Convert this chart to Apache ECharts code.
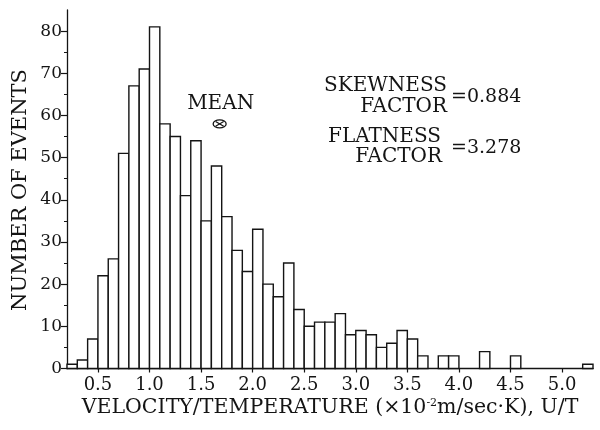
<!DOCTYPE html>
<html>
<head>
<meta charset="utf-8">
<script src="https://cdn.jsdelivr.net/npm/echarts@6/dist/echarts.min.js"></script>
<style>
  html, body { margin: 0; padding: 0; background: #fff; }
  #chart { width: 600px; height: 430px; }
</style>
</head>
<body>
<div id="chart"></div>
<script>
// Histogram of U/T: lower edge of each 0.1-wide bin and the number of events in it
const binWidth = 0.1;
const binStart = [
  0.2, 0.3, 0.4, 0.5, 0.6, 0.7, 0.8, 0.9, 1.0, 1.1,
  1.2, 1.3, 1.4, 1.5, 1.6, 1.7, 1.8, 1.9, 2.0, 2.1,
  2.2, 2.3, 2.4, 2.5, 2.6, 2.7, 2.8, 2.9, 3.0, 3.1,
  3.2, 3.3, 3.4, 3.5, 3.6, 3.7, 3.8, 3.9, 4.0, 4.1,
  4.2, 4.3, 4.4, 4.5, 4.6, 4.7, 4.8, 4.9, 5.0, 5.1, 5.2
];
const counts = [
  1, 2, 7, 22, 26, 51, 67, 71, 81, 58,
  55, 41, 54, 35, 48, 36, 28, 23, 33, 20,
  17, 25, 14, 10, 11, 11, 13, 8, 9, 8,
  5, 6, 9, 7, 3, 0, 3, 3, 0, 0,
  4, 0, 0, 3, 0, 0, 0, 0, 0, 0, 1
];

// Axis ticks and labels
const xTicks = [0.5, 1.0, 1.5, 2.0, 2.5, 3.0, 3.5, 4.0, 4.5, 5.0];
const yTicks = [0, 10, 20, 30, 40, 50, 60, 70, 80];
const yMinorTicks = [5, 15, 25, 35, 45, 55, 65, 75];

// Mean marker position (U/T, events) and the statistics printed beside it
const meanPoint = [1.68, 58];
const skewnessFactor = '0.884';
const flatnessFactor = '3.278';

const FONT = '"DejaVu Serif", "Liberation Serif", serif';
const INK = '#141414';

const chart = echarts.init(document.getElementById('chart'), null, { renderer: 'canvas' });

const histData = binStart.map((b, i) => [b, counts[i]]);

chart.setOption({
  animation: false,
  backgroundColor: '#ffffff',
  grid: { left: 67, right: 7, top: 10, bottom: 61.5 },
  xAxis: {
    type: 'value',
    min: 0.2,
    max: 5.3,
    axisLine: { show: true, onZero: false, lineStyle: { color: INK, width: 1.3 } },
    axisTick: { show: true, customValues: xTicks, length: 4, lineStyle: { color: INK, width: 1.2 } },
    axisLabel: {
      customValues: xTicks,
      formatter: v => v.toFixed(1),
      fontFamily: FONT, fontSize: 18, color: INK, margin: 8
    },
    splitLine: { show: false }
  },
  yAxis: [
    {
      type: 'value',
      min: 0,
      max: 85,
      position: 'left',
      axisLine: { show: true, lineStyle: { color: INK, width: 1.3 } },
      axisTick: { show: true, customValues: yTicks, length: 6, lineStyle: { color: INK, width: 1.2 } },
      axisLabel: {
        customValues: yTicks,
        fontFamily: FONT, fontSize: 17, color: INK, margin: 5
      },
      splitLine: { show: false }
    },
    {
      // minor ticks at every 5 events
      type: 'value',
      min: 0,
      max: 85,
      position: 'left',
      offset: 0,
      axisLine: { show: false },
      axisTick: { show: true, customValues: yMinorTicks, length: 3, lineStyle: { color: INK, width: 1 } },
      axisLabel: { show: false },
      splitLine: { show: false }
    }
  ],
  series: [
    {
      type: 'custom',
      name: 'events',
      data: histData,
      encode: { x: 0, y: 1 },
      renderItem: (params, api) => {
        const x0 = api.value(0);
        const n = api.value(1);
        if (!n) return null;
        const base = api.coord([x0, 0]);
        const top = api.coord([x0 + binWidth, n]);
        return {
          type: 'rect',
          shape: { x: base[0], y: top[1], width: top[0] - base[0], height: base[1] - top[1] },
          style: { fill: '#ffffff', stroke: INK, lineWidth: 1.4 }
        };
      }
    },
    {
      // mean marker: a crossed ellipse with its caption above
      type: 'custom',
      name: 'mean',
      data: [meanPoint],
      encode: { x: 0, y: 1 },
      renderItem: (params, api) => {
        const p = api.coord([api.value(0), api.value(1)]);
        const rx = 6.5, ry = 4;
        const d = 0.62;
        return {
          type: 'group',
          children: [
            { type: 'ellipse', shape: { cx: p[0], cy: p[1], rx: rx, ry: ry },
              style: { fill: 'none', stroke: INK, lineWidth: 1.3 } },
            { type: 'line', shape: { x1: p[0] - rx * d, y1: p[1] - ry * d, x2: p[0] + rx * d, y2: p[1] + ry * d },
              style: { stroke: INK, lineWidth: 1.2 } },
            { type: 'line', shape: { x1: p[0] - rx * d, y1: p[1] + ry * d, x2: p[0] + rx * d, y2: p[1] - ry * d },
              style: { stroke: INK, lineWidth: 1.2 } },
            { type: 'text', x: p[0] + 1, y: p[1] - 20,
              style: { text: 'MEAN', font: '20px ' + FONT, fill: INK, align: 'center', verticalAlign: 'middle' } }
          ]
        };
      }
    }
  ],
  graphic: [
    {
      type: 'text', x: 21, y: 190, rotation: Math.PI / 2,
      style: { text: 'NUMBER OF EVENTS', font: '21px ' + FONT, fill: INK, align: 'center', verticalAlign: 'middle' }
    },
    {
      type: 'text', x: 330, y: 408,
      style: {
        text: '{t|VELOCITY/TEMPERATURE (×10}{s|-2}{t|m/sec·K), U/T}',
        fill: INK, align: 'center', verticalAlign: 'middle',
        rich: {
          t: { fontFamily: FONT, fontSize: 20.5, fill: INK },
          s: { fontFamily: FONT, fontSize: 11, fill: INK, padding: [0, 0, 10, 0] }
        }
      }
    },
    { type: 'text', x: 447, y: 86, style: { text: 'SKEWNESS', font: '20px ' + FONT, fill: INK, align: 'right', verticalAlign: 'middle' } },
    { type: 'text', x: 447, y: 107, style: { text: 'FACTOR', font: '20px ' + FONT, fill: INK, align: 'right', verticalAlign: 'middle' } },
    { type: 'text', x: 451, y: 97, style: { text: '=' + skewnessFactor, font: '19px ' + FONT, fill: INK, align: 'left', verticalAlign: 'middle' } },
    { type: 'text', x: 441, y: 137, style: { text: 'FLATNESS', font: '20px ' + FONT, fill: INK, align: 'right', verticalAlign: 'middle' } },
    { type: 'text', x: 442, y: 157, style: { text: 'FACTOR', font: '20px ' + FONT, fill: INK, align: 'right', verticalAlign: 'middle' } },
    { type: 'text', x: 451, y: 148, style: { text: '=' + flatnessFactor, font: '19px ' + FONT, fill: INK, align: 'left', verticalAlign: 'middle' } }
  ]
});
</script>
</body>
</html>
